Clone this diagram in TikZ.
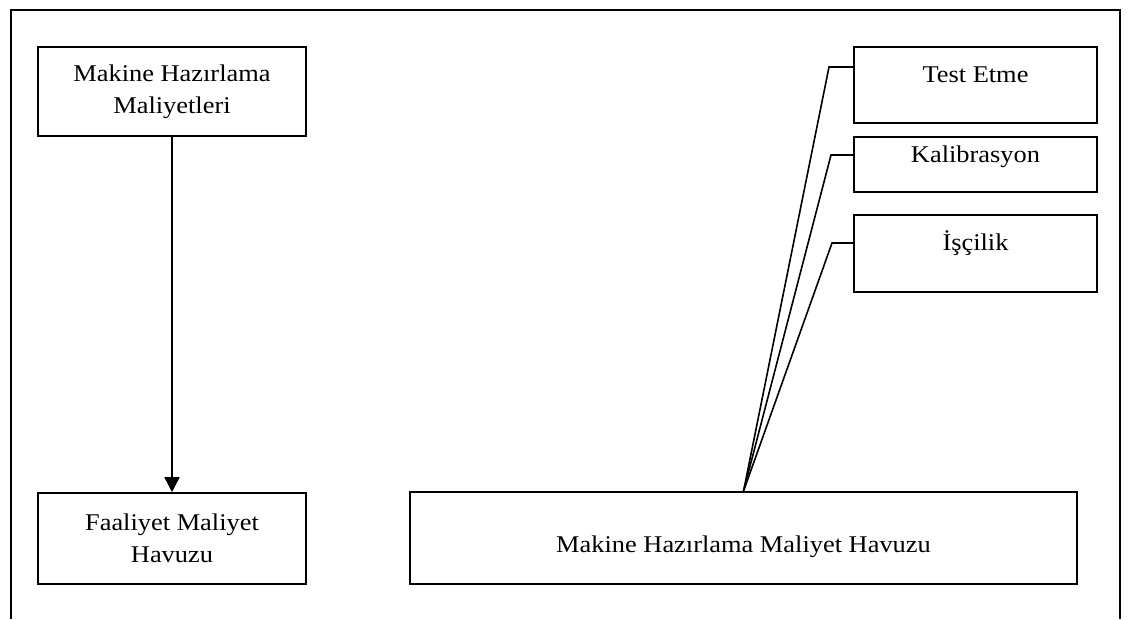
\documentclass[tikz,border=0pt]{standalone}
\usepackage{fontspec}
\setmainfont{Liberation Serif}[FakeStretch=1.1]
\usetikzlibrary{arrows.meta}
\begin{document}
\begin{tikzpicture}[x=1pt,y=-1pt,
  box/.style={draw, line width=1.6pt, rectangle, inner sep=0pt, align=center,
              font=\fontsize{24}{32}\selectfont},
  link/.style={draw, line width=1.6pt},
  frame/.style={line width=2.4pt}]
\useasboundingbox (0,0) rectangle (1131,619);
% open outer frame
\draw[frame] (11,619) -- (11,10) -- (1120,10) -- (1120,619);

% left column
\node[box, minimum width=268pt, minimum height=89pt] (mhm) at (172,91.5)
  {Makine Hazırlama\\Maliyetleri};
\node[box, minimum width=268pt, minimum height=91pt] (fmh) at (172,538.5)
  {Faaliyet Maliyet\\Havuzu};
\draw[link, -{Triangle[width=15pt,length=15pt]}] (mhm) -- (fmh);

% right column: activities feeding the pool
\node[box, anchor=base, minimum width=243pt, text height=35pt, text depth=41pt] (test) at (975.5,82) {Test Etme};
\node[box, anchor=base, minimum width=243pt, text height=25pt, text depth=30pt] (kal) at (975.5,162) {Kalibrasyon};
\node[box, anchor=base, minimum width=243pt, text height=35pt, text depth=42pt] (isc) at (975.5,250) {İşçilik};
\node[box, anchor=base, minimum width=667pt, text height=60pt, text depth=32pt] (pool) at (743.5,552) {Makine Hazırlama Maliyet Havuzu};

\coordinate (tb) at (829,67);
\coordinate (kb) at (831,155);
\coordinate (ib) at (832,243);
\draw[link] (test.west |- tb) -- (tb) -- (pool.north);
\draw[link] (kal.west |- kb) -- (kb) -- (pool.north);
\draw[link] (isc.west |- ib) -- (ib) -- (pool.north);
\end{tikzpicture}
\end{document}
